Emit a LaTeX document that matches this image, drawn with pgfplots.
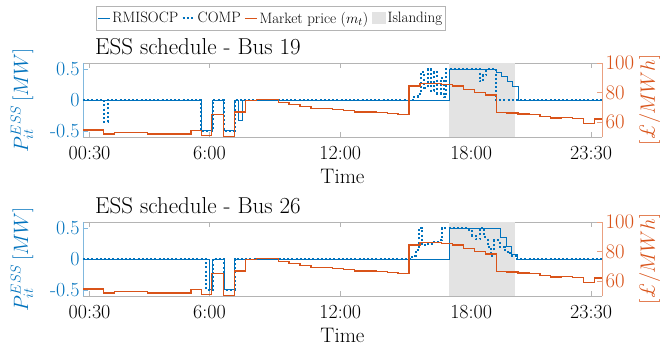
\documentclass[border=0pt]{standalone}
\usepackage{pgfplots}
\pgfplotsset{compat=1.18}
\definecolor{mblue}{HTML}{0072BD}
\definecolor{morange}{HTML}{D95319}
\definecolor{islgray}{HTML}{E3E3E3}
\definecolor{axgray}{HTML}{B4B4B4}
\begin{document}
\begin{tikzpicture}
\useasboundingbox (0,0) rectangle (665pt,352pt);
\pgfplotsset{
  common/.style={
    width=519pt, height=74pt, scale only axis,
    xmin=0.2, xmax=24,
    tick align=inside, major tick length=5pt,
    ticklabel style={font=\fontsize{20}{24}\selectfont},
  },
  leftax/.style={common,
    ymin=-0.6, ymax=0.6,
    separate axis lines,
    axis x line=box, axis y line*=left,
    x axis line style={draw=axgray, line width=0.6pt},
    y axis line style={draw=mblue!50, line width=0.6pt},
    xtick={0.5,6,12,18,23.5},
    xticklabels={00:30,6:00,12:00,18:00,23:30},
    xtick style={draw=axgray},
    xticklabel style={yshift=-6pt},
    ytick={-0.5,0,0.5}, yticklabels={-0.5,0,0.5},
    ytick style={draw=mblue!50},
    yticklabel style={text=mblue},
    xlabel={Time},
    xlabel style={font=\fontsize{21}{25}\selectfont, at={(axis description cs:0.5,0)}, anchor=north, inner sep=0pt, yshift=-32pt},
    ylabel={$P_{it}^{ESS}\,[MW]$},
    ylabel style={font=\fontsize{22}{26}\selectfont, text=mblue, at={(axis description cs:-0.1175,0.5)}, anchor=center},
    title style={font=\fontsize{23}{27}\selectfont, at={(axis description cs:0.023,1)}, anchor=south west, inner sep=0pt, yshift=2pt},
    legend image code/.code={\draw[##1] (0pt,0pt) -- (12pt,0pt);},
  },
  rightax/.style={common,
    ymin=50, ymax=100,
    axis x line=none, axis y line*=right,
    y axis line style={draw=morange!55, line width=0.6pt},
    ytick={60,80,100},
    ytick style={draw=morange!55},
    yticklabel style={text=morange},
    ylabel={$[\textit{\pounds}/MWh]$},
    ylabel style={font=\fontsize{22}{26}\selectfont, text=morange, at={(axis description cs:1.092,0.5)}, anchor=center},
  },
  ess/.style={const plot, color=mblue, line width=0.9pt},
  comp/.style={const plot, color=mblue, line width=2pt, dash pattern=on 2pt off 2.2pt},
  price/.style={const plot, color=morange, line width=1.3pt},
  isl/.style={fill=islgray, draw=none},
}
\pgfplotstableread{
x y
0.2 54.7
1.15 52.0
1.65 52.9
3.15 52.0
5.15 54.3
5.65 51.1
6.1 65.1
6.65 50.2
7.15 66.9
7.65 74.5
8.15 75.3
9.15 73.4
9.65 72.0
10.15 70.6
10.65 69.3
11.65 68.5
12.15 67.8
12.65 66.9
13.65 66.5
14.15 66.0
14.65 65.1
15.15 84.5
15.65 86.0
16.65 85.5
17.15 84.5
17.65 82.0
18.15 80.0
18.65 78.4
19.15 66.7
19.65 66.3
20.15 65.5
20.65 65.0
21.15 64.0
21.65 62.8
22.15 63.2
22.65 62.4
23.15 59.3
23.65 62.2
24 62.2
}\pricetab
% ---------------- top panel ----------------
\begin{axis}[leftax, at={(83pt,215pt)}, anchor=south west,
  title={ESS schedule - Bus 19},
  legend style={at={(0.362,1.605)}, anchor=center, font=\fontsize{15}{18}\selectfont,
    draw=axgray, inner xsep=1.5pt, inner ysep=3.5pt, legend columns=4, legend cell align=left,
    /tikz/every even column/.append style={column sep=1.5pt},
    /tikz/every odd column/.append style={column sep=0pt}}]
\addplot[isl, forget plot] coordinates {(17,-0.6) (17,0.6) (20,0.6) (20,-0.6)} -- cycle;
\addplot[ess] coordinates {(0.2,0) (5.62,-0.5) (6.15,0) (6.65,-0.5) (7.15,0) (7.32,-0.33) (7.5,0) (17.0,0.5) (19.15,0.45) (19.4,0.38) (19.65,0.3) (19.9,0.22) (20.15,0) (24,0)};
\addlegendentry{RMISOCP}
\addplot[comp] coordinates {(0.2,0) (1.15,-0.35) (1.35,0) (5.6,-0.5) (6.15,0) (6.65,-0.5) (7.15,0) (15.4,0.05) (15.55,0.1) (15.7,0.45) (15.85,0.2) (16.0,0.5) (16.15,0.15) (16.3,0.45) (16.45,0.1) (16.6,0.35) (16.75,0.05) (16.85,0.5) (18.4,0.3) (18.55,0.4) (18.7,0.5) (19.15,0) (24,0)};
\addlegendentry{COMP}
\addlegendimage{price}
\addlegendentry{Market price ($m_t$)}
\addlegendimage{isl, legend image code/.code={\fill[islgray] (0pt,-6pt) rectangle (14pt,6pt);}}
\addlegendentry{Islanding}
\end{axis}
\begin{axis}[rightax, at={(83pt,215pt)}, anchor=south west]
\addplot[price] table[x=x,y=y] {\pricetab};
\end{axis}
% ---------------- bottom panel ----------------
\begin{axis}[leftax, at={(83pt,56pt)}, anchor=south west,
  title={ESS schedule - Bus 26}]
\addplot[isl, forget plot] coordinates {(17,-0.6) (17,0.6) (20,0.6) (20,-0.6)} -- cycle;
\addplot[ess] coordinates {(0.2,0) (6.0,-0.5) (6.15,0) (6.7,-0.5) (7.15,0) (17.0,0.5) (19.35,0.35) (19.6,0.2) (19.85,0.08) (20.1,0) (24,0)};
\addplot[comp] coordinates {(0.2,0) (5.83,-0.5) (6.15,0) (6.65,-0.5) (7.15,0) (15.3,0.05) (15.45,0.15) (15.6,0.5) (15.75,0.22) (16.0,0.25) (16.25,0.27) (16.5,0.3) (16.65,0.5) (17.9,0.45) (18.05,0.38) (18.2,0.32) (18.4,0.5) (18.6,0.35) (18.75,0.2) (18.9,0.05) (19.05,0.3) (19.3,0.2) (19.55,0.12) (19.8,0.05) (20.05,0) (24,0)};
\end{axis}
\begin{axis}[rightax, at={(83pt,56pt)}, anchor=south west]
\addplot[price] table[x=x,y=y] {\pricetab};
\end{axis}
\end{tikzpicture}
\end{document}
